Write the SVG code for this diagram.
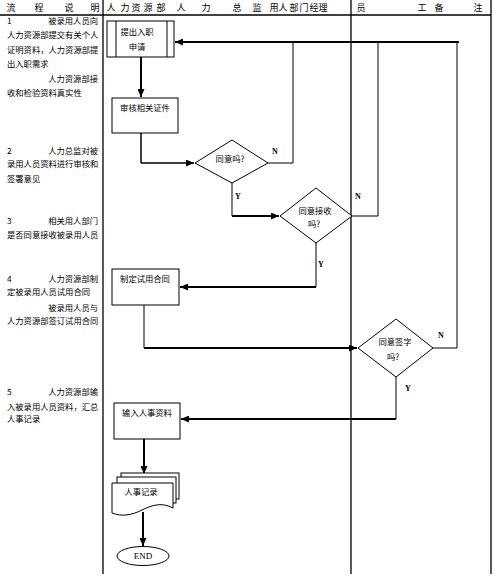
<svg xmlns="http://www.w3.org/2000/svg" width="500" height="578" viewBox="0 0 500 578">
<style>
.t{font-family:"Noto Sans CJK SC","Noto Sans",sans-serif;font-size:8.3px;fill:#000}
.h{font-family:"Noto Sans CJK SC","Noto Sans",sans-serif;font-size:9px;fill:#000;text-anchor:middle}
.c{text-anchor:middle}
.e{text-anchor:end}
.lb{font-family:"Liberation Serif",serif;font-size:8px;font-weight:bold;fill:#000;text-anchor:middle}
.shape{fill:#fff;stroke:#000;stroke-width:1}
.grid{stroke:#000;stroke-width:1.3;fill:none}
.thin{stroke:#000;stroke-width:1;fill:none}
.thick{stroke:#000;stroke-width:2;fill:none}
</style>
<defs>
<marker id="arr" markerUnits="userSpaceOnUse" markerWidth="8" markerHeight="7" refX="8" refY="3.5" orient="auto">
<path d="M0,0 L8,3.5 L0,7 z" fill="#000"/>
</marker>
</defs>
<rect width="500" height="578" fill="#fff"/>

<g id="grid">
<line class="grid" x1="0" y1="15" x2="491" y2="15"/>
<line class="grid" x1="103" y1="0" x2="103" y2="574"/>
<line class="grid" x1="351" y1="0" x2="351" y2="574"/>
<line class="grid" x1="491" y1="0" x2="491" y2="574"/>
</g>

<g id="header">
<text class="h" x="11" y="11">流</text>
<text class="h" x="39" y="11">程</text>
<text class="h" x="69" y="11">说</text>
<text class="h" x="95" y="11">明</text>
<text class="h" x="111" y="11">人</text>
<text class="h" x="125" y="11">力</text>
<text class="h" x="136" y="11">资</text>
<text class="h" x="148" y="11">源</text>
<text class="h" x="161" y="11">部</text>
<text class="h" x="181" y="11">人</text>
<text class="h" x="206" y="11">力</text>
<text class="h" x="237" y="11">总</text>
<text class="h" x="257" y="11">监</text>
<text class="h" x="274" y="11">用</text>
<text class="h" x="283" y="11">人</text>
<text class="h" x="294" y="11">部</text>
<text class="h" x="304" y="11">门</text>
<text class="h" x="314" y="11">经</text>
<text class="h" x="323" y="11">理</text>
<text class="h" x="361" y="11">员</text>
<text class="h" x="422" y="11">工</text>
<text class="h" x="439" y="11">备</text>
<text class="h" x="478" y="11">注</text>
</g>

<g id="description">
<text class="t" x="7" y="24">1</text>
<text class="t e" x="98" y="24">被录用人员向</text>
<text class="t" x="7" y="38">人力资源部提交有关个人</text>
<text class="t" x="7" y="53">证明资料，人力资源部提</text>
<text class="t" x="7" y="67">出入职需求</text>
<text class="t e" x="98" y="82">人力资源部接</text>
<text class="t" x="7" y="96">收和检验资料真实性</text>

<text class="t" x="7" y="154">2</text>
<text class="t e" x="98" y="154">人力总监对被</text>
<text class="t" x="7" y="167">录用人员资料进行审核和</text>
<text class="t" x="7" y="182">签署意见</text>

<text class="t" x="7" y="224">3</text>
<text class="t e" x="98" y="224">相关用人部门</text>
<text class="t" x="7" y="238">是否同意接收被录用人员</text>

<text class="t" x="7" y="282">4</text>
<text class="t e" x="98" y="282">人力资源部制</text>
<text class="t" x="7" y="295">定被录用人员试用合同</text>
<text class="t e" x="98" y="311">被录用人员与</text>
<text class="t" x="7" y="324">人力资源部签订试用合同</text>

<text class="t" x="7" y="395">5</text>
<text class="t e" x="98" y="395">人力资源部输</text>
<text class="t" x="7" y="410">入被录用人员资料，汇总</text>
<text class="t" x="7" y="422">人事记录</text>
</g>

<g id="connectors">
<path class="thick" d="M459,42 H175" marker-end="url(#arr)"/>
<path class="thin" d="M268,163 H293 V42"/>
<path class="thin" d="M352,216 H378 V42"/>
<path class="thin" d="M433,348 H457 V42"/>
<path class="thick" d="M141,57 V97" marker-end="url(#arr)"/>
<path class="thin" d="M141,133 V163" style="stroke-width:1.5"/>
<path class="thin" d="M141,163 H194" style="stroke-width:1.5" marker-end="url(#arr)"/>
<path class="thin" d="M232,183 V216"/>
<path class="thick" d="M232,216 H279" marker-end="url(#arr)"/>
<path class="thin" d="M316,243 V287"/>
<path class="thick" d="M316,287 H180" marker-end="url(#arr)"/>
<path class="thin" d="M144,305 V348"/>
<path class="thick" d="M144,348 H357" marker-end="url(#arr)"/>
<path class="thin" d="M396,377 V419"/>
<path class="thick" d="M396,419 H181" marker-end="url(#arr)"/>
<path class="thick" d="M144,439 V474" marker-end="url(#arr)"/>
<path class="thick" d="M143,512 V546" marker-end="url(#arr)"/>
<text class="lb" x="275" y="154">N</text>
<text class="lb" x="238" y="199">Y</text>
<text class="lb" x="358" y="199">N</text>
<text class="lb" x="321" y="267">Y</text>
<text class="lb" x="441" y="338">N</text>
<text class="lb" x="408" y="391">Y</text>
</g>

<g id="n1">
<rect class="shape" x="107" y="21" width="67" height="36"/>
<line class="thin" x1="116" y1="21" x2="116" y2="57"/>
<line class="thin" x1="167" y1="21" x2="167" y2="57"/>
<text class="t c" x="137" y="35">提出入职</text>
<text class="t c" x="137" y="50">申请</text>
</g>

<g id="n2">
<rect class="shape" x="112" y="98" width="66" height="35"/>
<text class="t c" x="145" y="111">审核相关证件</text>
</g>

<g id="d1">
<polygon class="shape" points="195,163 232,140 268,163 232,183"/>
<text class="t c" x="230" y="162">同意吗?</text>
</g>

<g id="d2">
<polygon class="shape" points="280,216 316,188 352,216 316,243"/>
<text class="t c" x="315" y="214">同意接收</text>
<text class="t c" x="314" y="227">吗?</text>
</g>

<g id="n3">
<rect class="shape" x="112" y="269" width="67" height="36"/>
<text class="t c" x="145" y="282">制定试用合同</text>
</g>

<g id="d3">
<polygon class="shape" points="358,348 396,319 433,348 396,377"/>
<text class="t c" x="395" y="345">同意签字</text>
<text class="t c" x="393" y="360">吗?</text>
</g>

<g id="n4">
<rect class="shape" x="114" y="403" width="66" height="36"/>
<text class="t c" x="147" y="416">输入人事资料</text>
</g>

<g id="n5">
<rect class="shape" x="121" y="473" width="58" height="26"/>
<rect class="shape" x="117" y="477" width="59" height="26"/>
<path class="shape" d="M112,483 H173 V508 C162,502 152,505 142,510 C132,515 122,517 112,513 Z"/>
<text class="t c" x="141" y="495">人事记录</text>
</g>

<g id="n6">
<ellipse class="shape" cx="143" cy="556" rx="26" ry="9.5"/>
<text class="lb" x="143" y="559" style="font-size:9px;font-weight:normal">END</text>
</g>
</svg>
